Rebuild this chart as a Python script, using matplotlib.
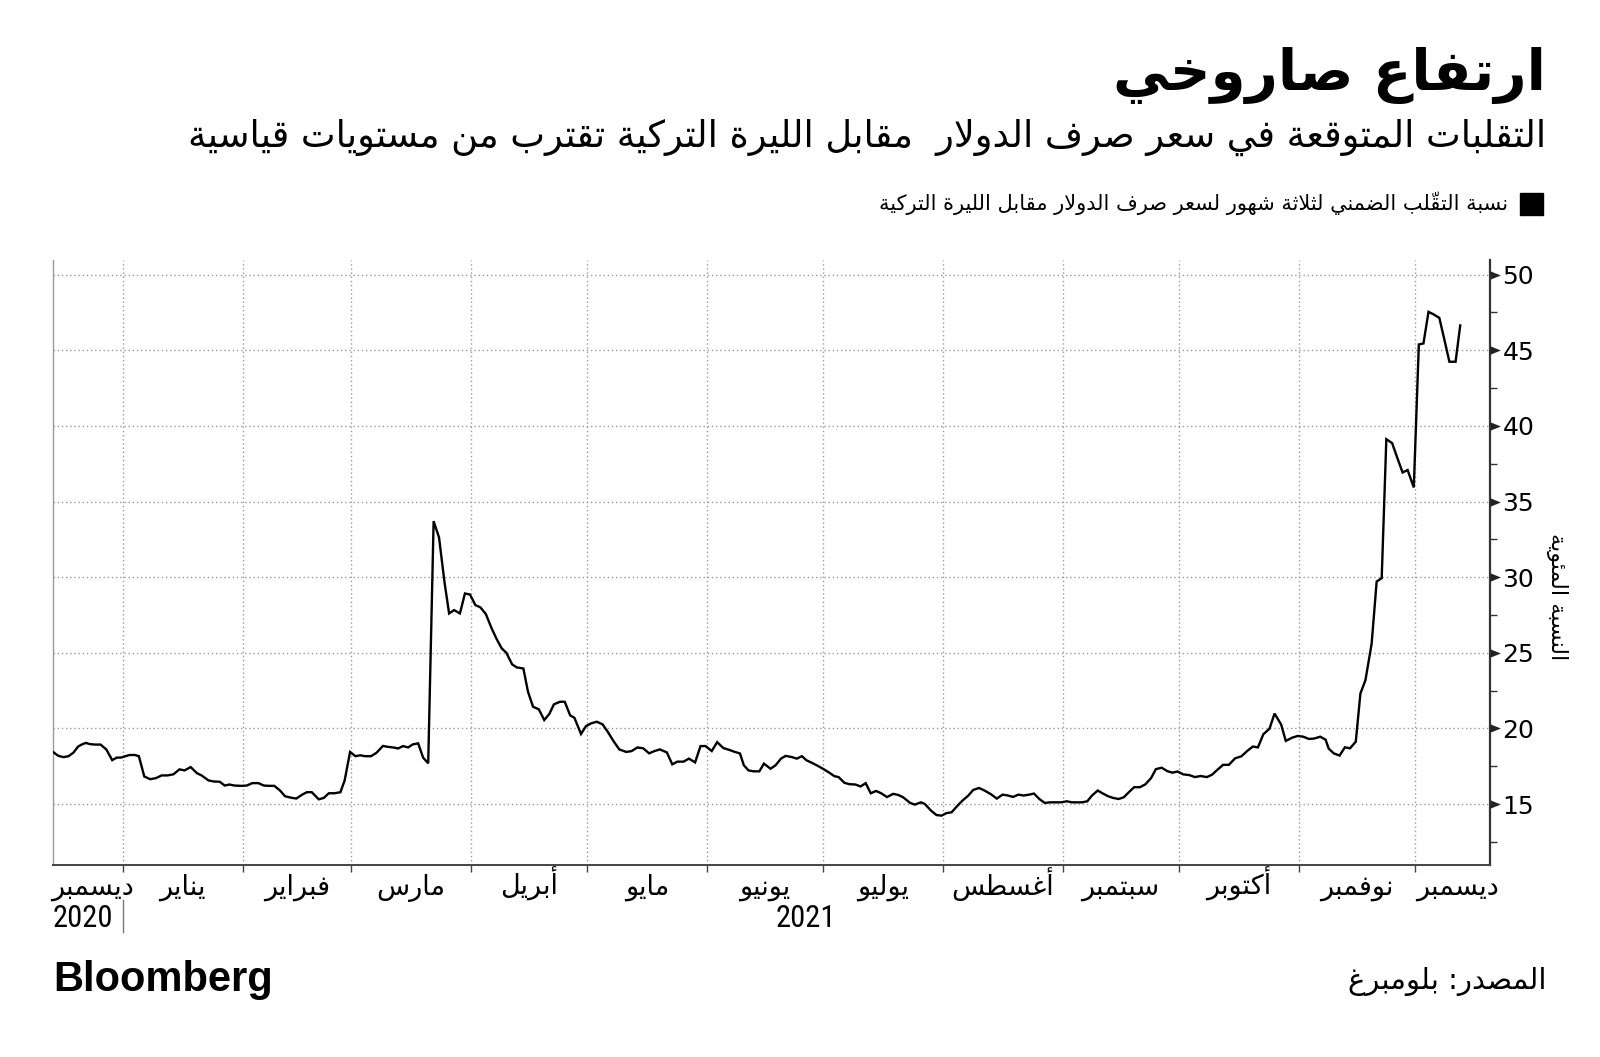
import unicodedata
import numpy as np
import pandas as pd
import matplotlib
matplotlib.use('Agg')
import matplotlib.pyplot as plt
import matplotlib.dates as mdates
from matplotlib.path import Path
from matplotlib.patches import Rectangle
from matplotlib import font_manager

# ---- data ----
start = pd.Timestamp('2020-12-14')
day_offset = [
    0.0, 1.4, 2.7, 4.0, 5.3, 6.5, 7.4, 8.5, 9.5, 10.8, 12.3, 13.8, 15.3, 16.5, 17.6,
    18.7, 19.8, 21.2, 22.2, 23.6, 25.1, 26.6, 28.1, 29.6, 31.1, 32.7, 34.0, 35.6, 37.2,
    38.4, 40.2, 41.5, 43.1, 44.4, 45.6, 46.9, 48.7, 50.1, 51.5, 53.1, 54.5, 55.9, 57.2,
    58.7, 60.0, 61.5, 62.9, 64.3, 65.6, 66.9, 68.7, 70.0, 71.3, 72.8, 74.3, 75.4, 76.8,
    78.2, 79.4, 80.7, 82.2, 83.6, 85.3, 86.5, 88.2, 89.2, 90.5, 91.8, 93.0, 94.4, 95.7,
    97.0, 98.4, 99.8, 101.2, 102.4, 103.7, 105.2, 106.5, 107.8, 109.2, 110.5, 111.9,
    113.4, 114.7, 116.0, 117.2, 118.7, 119.9, 121.6, 122.8, 124.1, 125.6, 127.0, 128.3,
    129.5, 131.1, 132.3, 133.7, 134.8, 136.5, 137.8, 139.1, 140.6, 142.1, 143.5, 145.0,
    146.4, 148.2, 149.6, 151.1, 152.6, 154.1, 155.5, 156.9, 158.7, 160.1, 161.4, 163.0,
    164.4, 166.0, 167.4, 168.7, 170.3, 171.7, 173.3, 174.8, 176.2, 177.6, 178.6, 179.8,
    181.1, 182.6, 183.8, 185.5, 186.8, 188.2, 189.4, 190.9, 192.3, 193.6, 194.8, 196.3,
    197.8, 199.3, 200.7, 202.0, 203.1, 204.6, 205.9, 207.4, 208.8, 210.1, 211.4, 212.8,
    214.1, 215.6, 217.2, 218.5, 219.8, 221.6, 222.8, 224.4, 225.4, 227.0, 228.4, 229.7,
    231.0, 232.3, 233.6, 235.1, 236.6, 237.9, 239.4, 240.9, 242.4, 244.0, 245.5, 246.9,
    248.2, 249.6, 250.9, 252.4, 253.6, 255.0, 256.4, 257.7, 259.2, 260.6, 262.1, 263.4,
    264.9, 266.0, 267.4, 268.6, 270.1, 271.3, 272.8, 274.1, 275.5, 276.8, 278.3, 279.5,
    281.0, 282.4, 283.9, 285.1, 286.6, 288.1, 289.4, 290.7, 292.2, 293.8, 295.2, 296.7,
    298.3, 299.6, 301.1, 302.5, 304.0, 305.6, 307.2, 308.8, 310.2, 311.5, 312.9, 314.5,
    315.8, 317.5, 318.7, 320.4, 321.8, 323.2, 324.7, 326.1, 327.6, 329.0, 329.8, 331.1,
    332.6, 334.0, 335.3, 336.8, 338.0, 339.3, 340.9, 342.2, 343.5, 344.7, 346.2, 347.5,
    348.9, 350.2, 351.8, 353.1, 354.3, 355.6, 357.0, 358.4, 359.6, 361.0, 362.6, 363.8,
]
vol = [
    18.44, 18.18, 18.10, 18.16, 18.40, 18.80, 18.93, 19.04, 18.96, 18.93, 18.93, 18.60,
    17.90, 18.07, 18.07, 18.16, 18.24, 18.24, 18.16, 16.82, 16.64, 16.71, 16.89, 16.89,
    16.96, 17.29, 17.22, 17.44, 17.04, 16.89, 16.56, 16.49, 16.47, 16.22, 16.29, 16.22,
    16.20, 16.22, 16.38, 16.38, 16.22, 16.20, 16.20, 15.89, 15.51, 15.42, 15.36, 15.60,
    15.78, 15.78, 15.31, 15.40, 15.71, 15.71, 15.78, 16.56, 18.44, 18.16, 18.22, 18.16,
    18.16, 18.38, 18.84, 18.78, 18.73, 18.67, 18.83, 18.74, 18.94, 19.01, 18.06, 17.69,
    33.70, 32.62, 29.69, 27.60, 27.82, 27.60, 28.92, 28.85, 28.15, 28.00, 27.56, 26.61,
    25.90, 25.29, 25.00, 24.23, 24.03, 23.96, 22.42, 21.43, 21.26, 20.55, 20.95, 21.59,
    21.76, 21.76, 20.86, 20.70, 19.63, 20.15, 20.33, 20.44, 20.26, 19.74, 19.12, 18.61,
    18.44, 18.50, 18.74, 18.68, 18.35, 18.50, 18.61, 18.41, 17.62, 17.80, 17.80, 18.00,
    17.75, 18.83, 18.83, 18.50, 19.09, 18.70, 18.58, 18.45, 18.34, 17.56, 17.22, 17.16,
    17.16, 17.67, 17.33, 17.56, 18.00, 18.18, 18.11, 18.00, 18.16, 17.89, 17.71, 17.51,
    17.29, 17.07, 16.84, 16.78, 16.40, 16.31, 16.29, 16.16, 16.38, 15.71, 15.86, 15.71,
    15.46, 15.67, 15.60, 15.44, 15.07, 14.96, 15.11, 15.00, 14.56, 14.27, 14.23, 14.40,
    14.45, 14.82, 15.22, 15.55, 15.93, 16.06, 15.88, 15.66, 15.36, 15.62, 15.56, 15.47,
    15.62, 15.56, 15.62, 15.69, 15.33, 15.07, 15.11, 15.11, 15.11, 15.18, 15.11, 15.11,
    15.11, 15.18, 15.56, 15.89, 15.71, 15.51, 15.40, 15.33, 15.44, 15.82, 16.11, 16.11,
    16.30, 16.72, 17.30, 17.40, 17.17, 17.07, 17.15, 16.96, 16.91, 16.78, 16.85, 16.78,
    16.93, 17.28, 17.59, 17.59, 18.02, 18.15, 18.52, 18.80, 18.74, 19.61, 19.98, 20.98,
    20.26, 19.17, 19.39, 19.50, 19.45, 19.30, 19.33, 19.45, 19.25, 18.66, 18.35, 18.20,
    18.75, 18.68, 19.12, 22.31, 23.19, 25.60, 29.71, 29.93, 39.12, 38.86, 37.91, 36.92,
    37.08, 35.93, 45.38, 45.45, 47.54, 47.36, 47.14, 45.82, 44.24, 44.24, 46.64,
]
dates = start + pd.to_timedelta(day_offset, unit='D')

months = ['ديسمبر', 'يناير', 'فبراير', 'مارس', 'أبريل', 'مايو', 'يونيو',
          'يوليو', 'أغسطس', 'سبتمبر', 'أكتوبر', 'نوفمبر', 'ديسمبر']
years = ['2020', '2021']
yticks = [15, 20, 25, 30, 35, 40, 45, 50]

title = 'ارتفاع صاروخي'
subtitle = 'التقلبات المتوقعة في سعر صرف الدولار  مقابل الليرة التركية تقترب من مستويات قياسية'
legend_txt = 'نسبة التقلّب الضمني لثلاثة شهور لسعر صرف الدولار مقابل الليرة التركية'
ylabel = 'النسبة المئوية'
source = 'المصدر: بلومبرغ'


# ---- tiny arabic shaper: matplotlib does no shaping / bidi ----
LAM_ALEF = {'ا': ('\uFEFB', '\uFEFC'), 'أ': ('\uFEF7', '\uFEF8'),
            'إ': ('\uFEF9', '\uFEFA'), 'آ': ('\uFEF5', '\uFEF6')}


def pform(c, f):
    try:
        return unicodedata.lookup(unicodedata.name(c, '?') + ' ' + f + ' FORM')
    except KeyError:
        return None


def ar(text):
    chars = list(text)
    n = len(chars)
    out = []
    prev_dual = False
    i = 0
    while i < n:
        c = chars[i]
        if unicodedata.combining(c):
            if out:
                out[-1] += c
            else:
                out.append(c)
            i += 1
            continue
        if pform(c, 'FINAL') is None:
            out.append(c)
            prev_dual = False
            i += 1
            continue
        j = i + 1
        while j < n and unicodedata.combining(chars[j]):
            j += 1
        nxt = chars[j] if j < n else None
        if c == 'ل' and nxt in LAM_ALEF:
            out.append(LAM_ALEF[nxt][1 if prev_dual else 0] + ''.join(chars[i + 1:j]))
            prev_dual = False
            i = j + 1
            continue
        dual = pform(c, 'INITIAL') is not None
        nj = dual and nxt is not None and pform(nxt, 'FINAL') is not None
        if prev_dual and nj:
            g = pform(c, 'MEDIAL')
        elif prev_dual:
            g = pform(c, 'FINAL')
        elif nj:
            g = pform(c, 'INITIAL')
        else:
            g = pform(c, 'ISOLATED')
        out.append(g)
        prev_dual = dual
        i += 1
    return ''.join(reversed(out))


names = {f.name for f in font_manager.fontManager.ttflist}
AR = ['DejaVu Sans']
NUM = ['DejaVu Sans']
for cand in ['Roboto Condensed', 'Liberation Sans Narrow', 'Open Sans Condensed']:
    if cand in names:
        NUM = [cand]
        break
BB = ['Liberation Sans'] if 'Liberation Sans' in names else ['DejaVu Sans']

W, H = 1600, 1057
fig = plt.figure(figsize=(W / 100, H / 100), dpi=100)


def fx(px):
    return px / W


def fy(py):
    return 1 - py / H


ax = fig.add_axes([fx(53), fy(864.5), fx(1490) - fx(53), fy(259.5) - fy(864.5)])

x0 = pd.Timestamp('2020-12-14')
x1 = pd.Timestamp('2021-12-20 12:00')
month_starts = pd.date_range('2021-01-01', '2021-12-01', freq='MS')

ax.plot(dates, vol, color='black', lw=1.7, solid_joinstyle='miter', zorder=3)
ax.set_xlim(x0, x1)
ax.set_ylim(11, 51)

# grid
ax.set_xticks(month_starts)
ax.set_xticklabels([])
ax.set_yticks(yticks)
ax.set_yticks(np.arange(12.5, 50, 5), minor=True)
grid_kw = dict(color='#9a9a9a', lw=1, ls=(0, (1, 2)))
ax.grid(axis='x', **grid_kw)
ax.grid(axis='y', which='major', **grid_kw)

ax.spines['top'].set_visible(False)
ax.spines['left'].set_color('#9a9a9a')
ax.spines['left'].set_linewidth(1)
ax.spines['bottom'].set_color('#444444')
ax.spines['bottom'].set_linewidth(1.4)
ax.spines['right'].set_color('#333333')
ax.spines['right'].set_linewidth(1.6)

ax.tick_params(axis='x', direction='out', length=5, width=1, color='#444444')
ax.yaxis.tick_right()
ax.tick_params(axis='y', which='major', length=0, pad=9, labelsize=18)
ax.tick_params(axis='y', which='minor', direction='out', length=5, width=1, color='#333333')
for lab in ax.get_yticklabels():
    lab.set_family(['DejaVu Sans'])

# arrow-head major ticks
tri = Path([(0, -0.4), (0, 0.4), (1, 0), (0, -0.4)],
           [Path.MOVETO, Path.LINETO, Path.LINETO, Path.CLOSEPOLY])
ax.scatter([1] * len(yticks), yticks, marker=tri, s=15 ** 2, color='#222222',
           transform=ax.get_yaxis_transform(), clip_on=False, zorder=5, lw=0)

# month labels, centred in each month's visible span (first one kept inside the axis)
edges = mdates.date2num([x0] + list(month_starts) + [x1])
for k, m in enumerate(months):
    if k == 0:
        xpos, ha, dx = edges[0], 'left', -1
    elif k == len(months) - 1:
        xpos, ha, dx = (edges[k] + edges[k + 1]) / 2, 'center', 4
    else:
        xpos, ha, dx = (edges[k] + edges[k + 1]) / 2, 'center', 0
    ax.annotate(ar(m), (xpos, 0), xycoords=ax.get_xaxis_transform(),
                xytext=(dx, -22), textcoords='offset points', ha=ha, va='baseline',
                fontsize=19.5, family=AR)

# year labels
ax.annotate(years[0], (edges[0], 0), xycoords=ax.get_xaxis_transform(),
            xytext=(0, -39), textcoords='offset points', ha='left', va='center',
            fontsize=22, family=NUM, fontstretch='condensed')
ax.annotate(years[1], ((edges[1] + edges[-1]) / 2, 0), xycoords=ax.get_xaxis_transform(),
            xytext=(0, -39), textcoords='offset points', ha='center', va='center',
            fontsize=22, family=NUM, fontstretch='condensed')
ax.plot([edges[1], edges[1]], [-0.058, -0.112], color='#777777', lw=1,
        transform=ax.get_xaxis_transform(), clip_on=False)

# y label on the right
fig.text(fx(1557), fy(597), ar(ylabel), rotation=270, ha='center', va='center',
         fontsize=16, family=AR)

# titles
fig.text(fx(1546), fy(76), ar(title), ha='right', va='center', fontsize=40.5,
         fontweight='bold', family=AR)
fig.text(fx(1546), fy(137), ar(subtitle), ha='right', va='center', fontsize=26.5, family=AR)

# legend
fig.patches.append(Rectangle((fx(1520), fy(215)), fx(23), fy(0) - fy(22),
                             transform=fig.transFigure, color='black'))
fig.text(fx(1508), fy(203), ar(legend_txt), ha='right', va='center', fontsize=15, family=AR)

# footer
fig.text(fx(53), fy(980), 'Bloomberg', ha='left', va='center', fontsize=30,
         fontweight='bold', family=BB)
fig.text(fx(1546), fy(982), ar(source), ha='right', va='center', fontsize=21, family=AR)

fig.savefig('out.png', dpi=100)
